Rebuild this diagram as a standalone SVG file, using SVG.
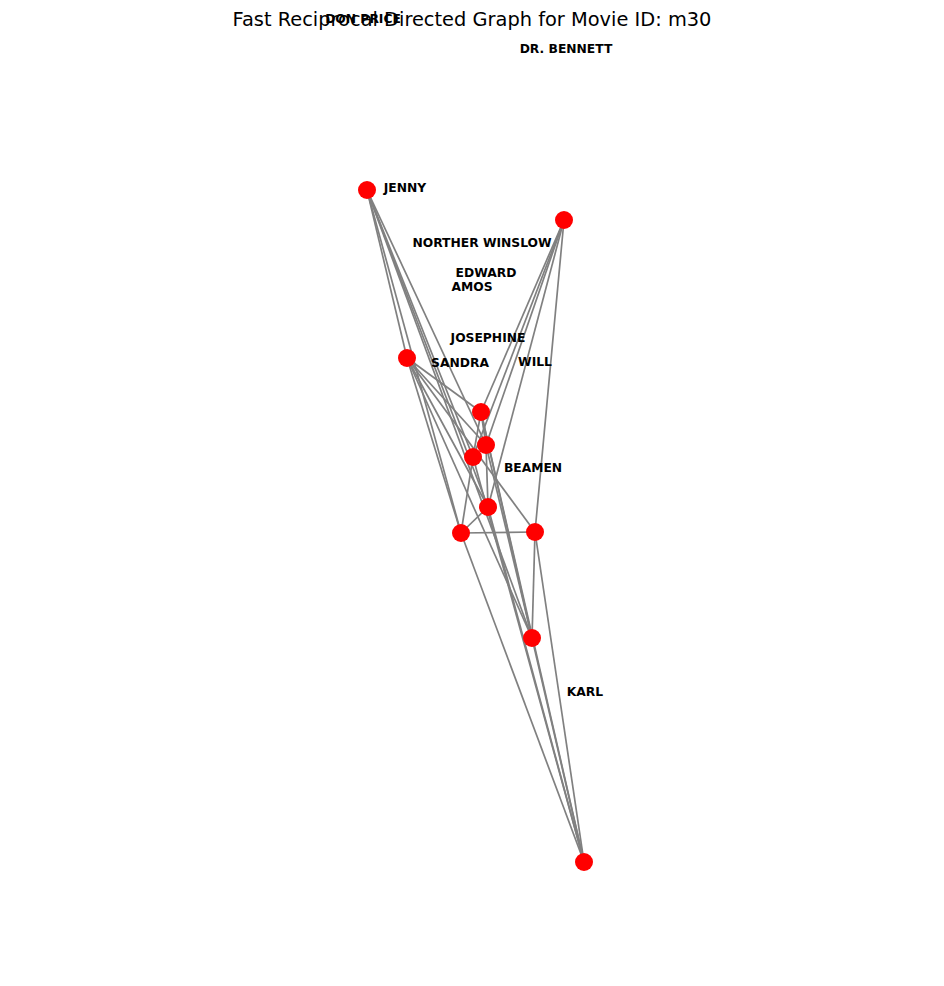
<svg xmlns="http://www.w3.org/2000/svg" width="944" height="986" viewBox="0 0 944 986">
<style>
.e{stroke:#808080;stroke-width:1.7;fill:none}
.n{fill:#ff0000}
.l{font-family:"DejaVu Sans",sans-serif;font-weight:bold;font-size:12.3px;fill:#000;text-anchor:middle}
.t{font-family:"DejaVu Sans",sans-serif;font-size:19.4px;fill:#000;text-anchor:middle}
</style>
<rect width="944" height="986" fill="#fff"/>
<g id="edges">
<line class="e" x1="367" y1="190" x2="407" y2="358"/>
<line class="e" x1="367" y1="190" x2="461" y2="533"/>
<line class="e" x1="367" y1="190" x2="532" y2="638"/>
<line class="e" x1="367" y1="190" x2="488" y2="507"/>
<line class="e" x1="367" y1="190" x2="473" y2="457"/>
<line class="e" x1="367" y1="190" x2="486" y2="445"/>
<line class="e" x1="564" y1="220" x2="481" y2="412"/>
<line class="e" x1="564" y1="220" x2="486" y2="445"/>
<line class="e" x1="564" y1="220" x2="473" y2="457"/>
<line class="e" x1="564" y1="220" x2="488" y2="507"/>
<line class="e" x1="564" y1="220" x2="535" y2="532"/>
<line class="e" x1="407" y1="358" x2="481" y2="412"/>
<line class="e" x1="407" y1="358" x2="486" y2="445"/>
<line class="e" x1="407" y1="358" x2="488" y2="507"/>
<line class="e" x1="407" y1="358" x2="461" y2="533"/>
<line class="e" x1="407" y1="358" x2="535" y2="532"/>
<line class="e" x1="407" y1="358" x2="532" y2="638"/>
<line class="e" x1="481" y1="412" x2="486" y2="445"/>
<line class="e" x1="481" y1="412" x2="473" y2="457"/>
<line class="e" x1="481" y1="412" x2="532" y2="638"/>
<line class="e" x1="481" y1="412" x2="584" y2="862"/>
<line class="e" x1="486" y1="445" x2="488" y2="507"/>
<line class="e" x1="486" y1="445" x2="532" y2="638"/>
<line class="e" x1="473" y1="457" x2="461" y2="533"/>
<line class="e" x1="473" y1="457" x2="584" y2="862"/>
<line class="e" x1="488" y1="507" x2="461" y2="533"/>
<line class="e" x1="488" y1="507" x2="584" y2="862"/>
<line class="e" x1="461" y1="533" x2="535" y2="532"/>
<line class="e" x1="461" y1="533" x2="584" y2="862"/>
<line class="e" x1="535" y1="532" x2="532" y2="638"/>
<line class="e" x1="535" y1="532" x2="584" y2="862"/>
<line class="e" x1="532" y1="638" x2="584" y2="862"/>
</g>
<g id="n1"><circle class="n" cx="367" cy="190" r="9"/></g>
<g id="n2"><circle class="n" cx="564" cy="220" r="9"/></g>
<g id="n3"><circle class="n" cx="407" cy="358" r="9"/></g>
<g id="n4"><circle class="n" cx="481" cy="412" r="9"/></g>
<g id="n5"><circle class="n" cx="486" cy="445" r="9"/></g>
<g id="n6"><circle class="n" cx="473" cy="457" r="9"/></g>
<g id="n7"><circle class="n" cx="488" cy="507" r="9"/></g>
<g id="n8"><circle class="n" cx="461" cy="533" r="9"/></g>
<g id="n9"><circle class="n" cx="535" cy="532" r="9"/></g>
<g id="n10"><circle class="n" cx="532" cy="638" r="9"/></g>
<g id="n11"><circle class="n" cx="584" cy="862" r="9"/></g>
<g id="labels">
<text class="t" x="472" y="26">Fast Reciprocal Directed Graph for Movie ID: m30</text>
<text class="l" x="363" y="23">DON PRICE</text>
<text class="l" x="566" y="53">DR. BENNETT</text>
<text class="l" x="405" y="192">JENNY</text>
<text class="l" x="482" y="247">NORTHER WINSLOW</text>
<text class="l" x="486" y="277">EDWARD</text>
<text class="l" x="472" y="291">AMOS</text>
<text class="l" x="488" y="342">JOSEPHINE</text>
<text class="l" x="460" y="367">SANDRA</text>
<text class="l" x="535" y="366">WILL</text>
<text class="l" x="533" y="472">BEAMEN</text>
<text class="l" x="585" y="696">KARL</text>
</g>
</svg>
